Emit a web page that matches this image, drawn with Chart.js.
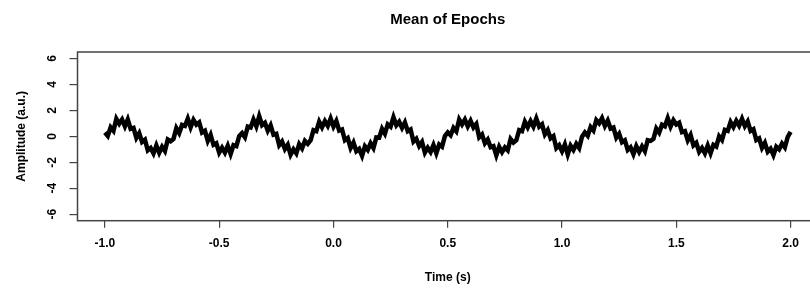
<!DOCTYPE html>
<html>
<head>
<meta charset="utf-8">
<script src="https://cdn.jsdelivr.net/npm/chart.js@4.4.0/dist/chart.umd.min.js"></script>
<style>
  html, body { margin: 0; padding: 0; background: #fff; overflow: hidden; }
  #wrap { width: 810px; height: 290px; overflow: hidden; }
  canvas { display: block; }
</style>
</head>
<body>
<div id="wrap"><canvas id="epochChart" width="820" height="290"></canvas></div>
<script>
// ---- data ----
const chartTitle = 'Mean of Epochs';
const xAxisTitle = 'Time (s)';
const yAxisTitle = 'Amplitude (a.u.)';

const sampleStart = -1.0;   // s
const sampleStep = 0.0125;  // s

// mean amplitude
const amplitude = [
  .3, .03, .7, .43, 1.35, .97, 1.3, .77, 1.3, .58, .65, -.12, .25, -.43, -.25, -1.08, -.9, -1.32, -.7, -1.27, -.8, -1.13, -.25, -.38,
  -.2, .63, .25, .88, .8, 1.37, .7, 1.27, .9, 1.08, .3, .43, -.35, .12, -.65, -.53, -1.25, -.87, -1.25, -.72, -1.35, -.68, -.75, .02,
  .25, -.07, .75, .68, 1.3, .77, 1.55, .87, 1.05, .43, .85, .13, .2, -.68, -.4, -.98, -.65, -1.42, -1.0, -1.32, -.6, -.93, -.35, -.58,
  -.3, .48, .4, 1.13, .7, 1.17, .8, 1.37, .75, 1.18, .45, .53, -.3, -.13, -.9, -.48, -1.15, -.97, -1.5, -.77, -1.05, -.53, -.9, -.08,
  -.1, .58, .2, .93, .75, 1.47, .85, 1.12, .65, 1.08, .4, .53, -.4, -.18, -.75, -.43, -1.25, -.87, -1.2, -.67, -1.3, -.63, -.8, .02,
  .3, .08, .65, .38, 1.3, .92, 1.3, .77, 1.2, .68, .95, -.07, .15, -.53, -.25, -.83, -.75, -1.47, -.8, -1.22, -.85, -1.08, -.2, -.48,
  -.3, .48, .4, 1.13, .7, 1.17, .75, 1.37, .75, .93, .15, .48, -.15, .02, -.9, -.68, -1.15, -.62, -1.4, -.72, -1.05, -.58, -.9, -.03,
  .3, .05, .72, .45, 1.25, 1.0, 1.4, .8, 1.22, .6, .68, -.1, .2, -.45, -.3, -1.05, -.85, -1.38, -.75, -1.2, -.78, -1.15, -.3, -.35,
  -.2, .6, .28, .9, .78, 1.4, .75, 1.25, .92, 1.05, .33, .4, -.3, .1, -.7, -.5, -1.2, -.9, -1.3, -.7, -1.3, -.65, -.78, 0,
  -.28, .5, .42, 1.1, .72, 1.2, .82, 1.35, .78, 1.15, .42, .55, -.28, -.15, -.88, -.5, -1.18, -.95, -1.45, -.8, -1.0, -.55, -.85, -.05,
  .35
];

const xTickValues = [-1, -0.5, 0, 0.5, 1, 1.5, 2];
const yTickValues = [-6, -4, -2, 0, 2, 4, 6];

// ---- chart ----
const points = amplitude.map((v, i) => ({ x: sampleStart + i * sampleStep, y: v }));
const fontFamily = '"Liberation Sans", Arial, Helvetica, sans-serif';

// box, titles and rotated y labels like base R plot
const rStylePlugin = {
  id: 'rStyle',
  afterDraw(chart) {
    const { ctx, chartArea: a, scales } = chart;
    const cx = (a.left + a.right) / 2;
    const cy = (a.top + a.bottom) / 2;
    ctx.save();
    ctx.strokeStyle = '#444';
    ctx.lineWidth = 1.5;
    ctx.strokeRect(a.left, a.top, a.right - a.left, a.bottom - a.top);

    ctx.fillStyle = '#000';
    ctx.textAlign = 'center';
    ctx.textBaseline = 'middle';
    ctx.font = `bold 15px ${fontFamily}`;
    ctx.fillText(chartTitle, cx, 20);

    ctx.font = `bold 12px ${fontFamily}`;
    ctx.fillText(xAxisTitle, cx, 278);

    ctx.save();
    ctx.translate(22, cy);
    ctx.rotate(-Math.PI / 2);
    ctx.fillText(yAxisTitle, 0, 0);
    ctx.restore();

    yTickValues.forEach(v => {
      const y = scales.y.getPixelForValue(v);
      ctx.save();
      ctx.translate(53, y);
      ctx.rotate(-Math.PI / 2);
      ctx.fillText(String(v), 0, 0);
      ctx.restore();
    });
    ctx.restore();
  }
};

new Chart(document.getElementById('epochChart'), {
  type: 'line',
  data: {
    datasets: [{
      data: points,
      borderColor: '#000',
      borderWidth: 4.5,
      borderJoinStyle: 'miter',
      pointRadius: 0,
      tension: 0,
      fill: false
    }]
  },
  options: {
    responsive: false,
    animation: false,
    devicePixelRatio: 1,
    layout: { padding: { left: 0, top: 52, right: 2, bottom: 0 } },
    plugins: { legend: { display: false }, tooltip: { enabled: false }, title: { display: false } },
    scales: {
      x: {
        type: 'linear',
        min: -1.12,
        max: 2.12,
        afterBuildTicks: s => { s.ticks = xTickValues.map(v => ({ value: v })); },
        afterFit: s => { s.height = 69.3; },
        grid: { drawOnChartArea: false, drawTicks: true, tickLength: 7, color: '#444', lineWidth: 1.2 },
        border: { display: false },
        ticks: {
          padding: 9,
          color: '#000',
          maxRotation: 0,
          font: { family: fontFamily, size: 12, weight: 'bold' },
          callback: v => Number(v).toFixed(1)
        }
      },
      y: {
        min: -6.5,
        max: 6.5,
        afterBuildTicks: s => { s.ticks = yTickValues.map(v => ({ value: v })); },
        afterFit: s => { s.width = 77.5; },
        grid: { drawOnChartArea: false, drawTicks: true, tickLength: 8, color: '#444', lineWidth: 1.2 },
        border: { display: false },
        ticks: { display: false }
      }
    }
  },
  plugins: [rStylePlugin]
});
</script>
</body>
</html>
